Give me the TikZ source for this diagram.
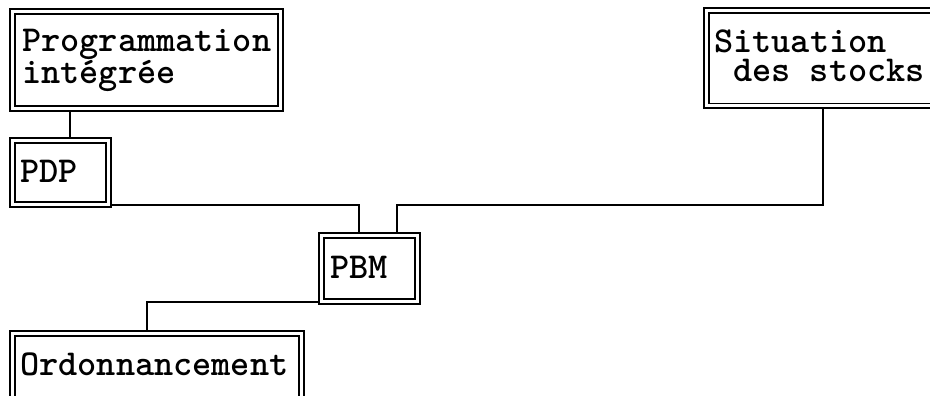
\documentclass[tikz,border=0pt]{standalone}
\usetikzlibrary{backgrounds}
\begin{document}
\begin{tikzpicture}[x=1pt,y=-1pt,
  dbox/.style={draw, double, double distance=3.3pt, line width=1.6pt, anchor=north west, inner sep=0pt, fill=white},
  lbl/.style={anchor=base west, inner sep=0pt, align=left, font=\ttfamily\bfseries\fontsize{36.5}{30}\selectfont},
  conn/.style={line width=1.8pt}]
\useasboundingbox (0,0) rectangle (930,396);
\clip (0,0) rectangle (930,396);
\node[dbox, minimum width=268pt, minimum height=97pt] (prog) at (11.5,10.5) {};
\node[dbox, minimum width=96pt, minimum height=64pt] (pdp) at (11.5,139.5) {};
\node[dbox, minimum width=236pt, minimum height=95.5pt] (sit) at (705.5,9.5) {};
\node[dbox, minimum width=96pt, minimum height=66pt] (pbm) at (320.5,234.5) {};
\node[dbox, minimum width=289pt, minimum height=66pt] (ord) at (11.5,332.5) {};
\node[lbl] (t1) at (22,84) {Programmation\\intégrée};
\node[lbl] (t3) at (20,182) {PDP};
\node[lbl] (t4) at (714,82) {Situation\\\ des stocks};
\node[lbl] (t6) at (330,278) {PBM};
\node[lbl] (t7) at (20,375) {Ordonnancement};
\begin{pgfonlayer}{background}
\draw[conn] ([xshift=58.5pt]prog.south west) -- ([xshift=58.5pt]prog.south west |- pdp.north);
\draw[conn] (pdp.south east) -| ([xshift=38.5pt]pbm.north west);
\draw[conn] ([xshift=117.5pt]sit.south west) |- ([xshift=76.5pt]pbm.north west |- pdp.south east) -- ([xshift=76.5pt]pbm.north west);
\draw[conn] (pbm.south west) -| ([xshift=135.5pt]ord.north west);
\end{pgfonlayer}
\end{tikzpicture}
\end{document}
